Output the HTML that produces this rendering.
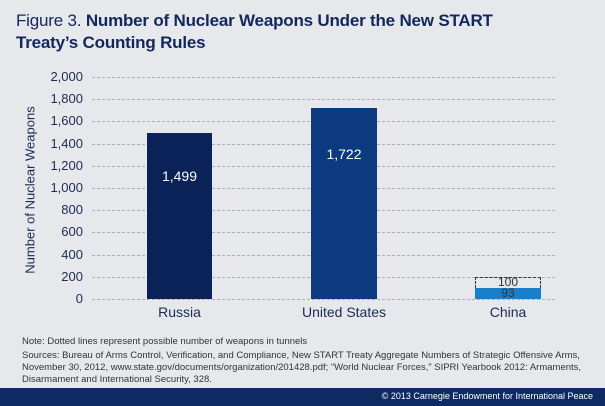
<!DOCTYPE html>
<html><head><style>
body{margin:0;width:605px;height:406px;overflow:hidden;background:#e6e8eb;font-family:"Liberation Sans",sans-serif;position:relative}
.t{position:absolute;white-space:nowrap}
.g{position:absolute;left:92px;width:463px;border-top:1px dashed #a9b0bc;height:0}
.yl{position:absolute;right:522px;font-size:13px;color:#1c2a55;line-height:14px}
.bar{position:absolute}
</style></head><body>
<div class="t" style="left:16px;top:10px;font-size:17px;color:#13275c;line-height:22px;letter-spacing:-0.2px">Figure 3. <b>Number of Nuclear Weapons Under the New START</b><br><b>Treaty’s Counting Rules</b></div>

<div class="g" style="top:77px"></div><div class="yl" style="top:70px">2,000</div>
<div class="g" style="top:99px"></div><div class="yl" style="top:92px">1,800</div>
<div class="g" style="top:121px"></div><div class="yl" style="top:114px">1,600</div>
<div class="g" style="top:144px"></div><div class="yl" style="top:137px">1,400</div>
<div class="g" style="top:166px"></div><div class="yl" style="top:159px">1,200</div>
<div class="g" style="top:188px"></div><div class="yl" style="top:181px">1,000</div>
<div class="g" style="top:210px"></div><div class="yl" style="top:203px">800</div>
<div class="g" style="top:232px"></div><div class="yl" style="top:225px">600</div>
<div class="g" style="top:255px"></div><div class="yl" style="top:248px">400</div>
<div class="g" style="top:277px"></div><div class="yl" style="top:270px">200</div>
<div class="g" style="top:299px"></div><div class="yl" style="top:292px">0</div>

<div class="t" style="left:30px;top:190px;transform:translate(-50%,-50%) rotate(-90deg);font-size:13px;color:#1c2a55">Number of Nuclear Weapons</div>

<div class="bar" style="left:147px;top:133px;width:65px;height:166px;background:#0b2258"></div>
<div class="t" style="left:147px;width:65px;text-align:center;top:168px;font-size:14px;color:#fff">1,499</div>
<div class="bar" style="left:311px;top:108px;width:66px;height:191px;background:#0c3a80"></div>
<div class="t" style="left:311px;width:66px;text-align:center;top:146px;font-size:14px;color:#fff">1,722</div>
<div class="bar" style="left:475px;top:288px;width:66px;height:11px;background:#1a7fc8"></div>
<div class="bar" style="left:475px;top:277px;width:64px;height:10px;border:1px dashed #333;border-bottom:none"></div>
<div class="t" style="left:475px;width:66px;text-align:center;top:276px;font-size:12px;color:#333;line-height:13px">100</div>
<div class="t" style="left:475px;width:66px;text-align:center;top:287px;font-size:12px;color:#333;line-height:13px">93</div>

<div class="t" style="left:147px;width:65px;text-align:center;top:304px;font-size:14px;color:#1c2a55">Russia</div>
<div class="t" style="left:294px;width:100px;text-align:center;top:304px;font-size:14px;color:#1c2a55">United States</div>
<div class="t" style="left:475px;width:66px;text-align:center;top:304px;font-size:14px;color:#1c2a55">China</div>

<div class="t" style="left:22px;top:336px;font-size:9.5px;color:#333">Note: Dotted lines represent possible number of weapons in tunnels</div>
<div class="t" style="left:22px;top:350px;font-size:9.5px;color:#333;line-height:12px">Sources: Bureau of Arms Control, Verification, and Compliance, New START Treaty Aggregate Numbers of Strategic Offensive Arms,<br>November 30, 2012, www.state.gov/documents/organization/201428.pdf; “World Nuclear Forces,” SIPRI Yearbook 2012: Armaments,<br>Disarmament and International Security, 328.</div>

<div style="position:absolute;left:0;top:388px;width:605px;height:18px;background:#0d2a63"></div>
<div class="t" style="right:12px;top:391px;font-size:9px;color:#fff">© 2013 Carnegie Endowment for International Peace</div>
</body></html>
